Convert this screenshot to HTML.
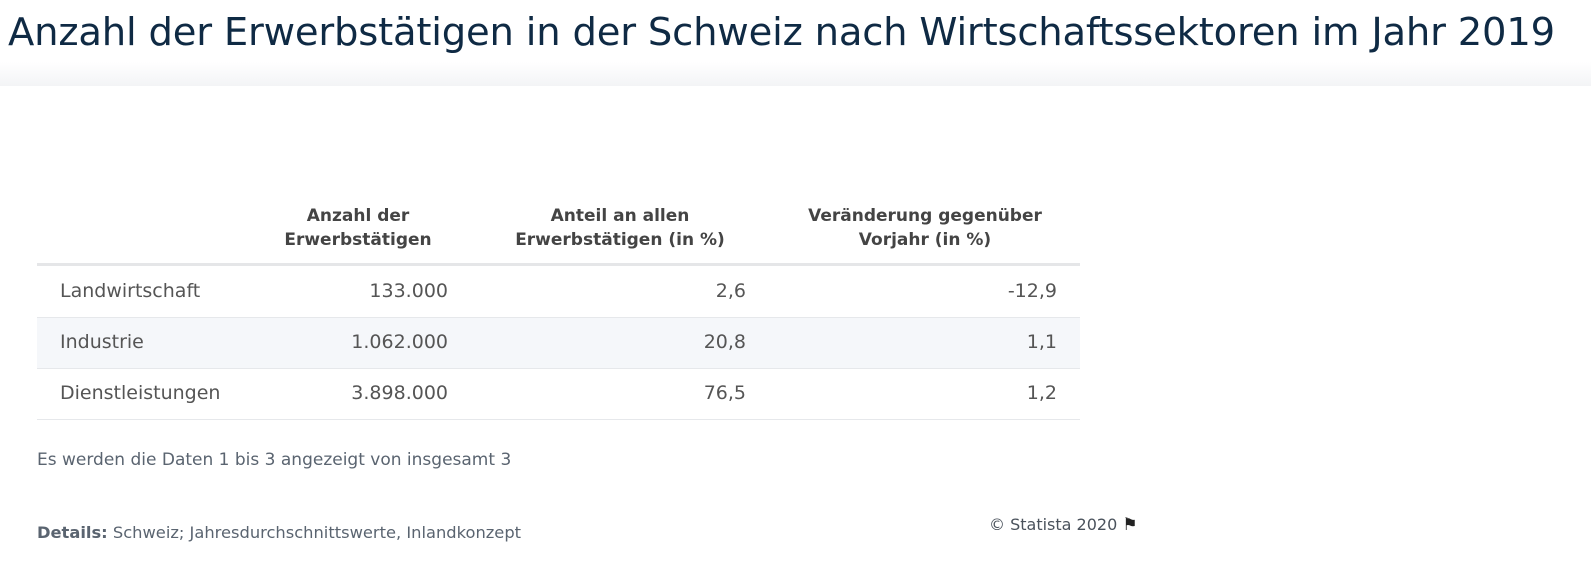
<!DOCTYPE html>
<html><head><meta charset="utf-8"><style>
body{margin:0;width:1591px;height:579px;background:#fff;font-family:"DejaVu Sans","Liberation Sans",sans-serif;position:relative;overflow:hidden}
.a{position:absolute;white-space:nowrap}
h1{position:absolute;left:8px;top:10px;margin:0;font-weight:normal;font-size:38.5px;color:#0f2a44;letter-spacing:-0.2px;font-family:"DejaVu Sans","Liberation Sans",sans-serif}
.hd{font-weight:bold;font-size:17px;color:#444;text-align:center;line-height:24px}
.c{font-size:19px;color:#555}
.r{text-align:right}
</style></head><body>
<h1>Anzahl der Erwerbstätigen in der Schweiz nach Wirtschaftssektoren im Jahr 2019</h1>
<div class="a" style="left:0;top:62px;width:1591px;height:24px;background:linear-gradient(#fff,#f3f4f6)"></div>
<div class="a" style="left:1160px;top:86px;width:431px;height:493px;background:#fff"></div>
<div class="a hd" style="left:258px;top:204px;width:200px">Anzahl der<br>Erwerbstätigen</div>
<div class="a hd" style="left:490px;top:204px;width:260px">Anteil an allen<br>Erwerbstätigen (in %)</div>
<div class="a hd" style="left:780px;top:204px;width:290px">Veränderung gegenüber<br>Vorjahr (in %)</div>
<div class="a" style="left:37px;top:263px;width:1043px;height:3px;background:#e5e6e8"></div>
<div class="a" style="left:37px;top:318px;width:1043px;height:50px;background:#f5f7fa"></div>
<div class="a" style="left:37px;top:317px;width:1043px;height:1px;background:#e6e8eb"></div>
<div class="a" style="left:37px;top:368px;width:1043px;height:1px;background:#e6e8eb"></div>
<div class="a" style="left:37px;top:419px;width:1043px;height:1px;background:#e6e8eb"></div>
<div class="a c" style="left:60px;top:280px">Landwirtschaft</div>
<div class="a c r" style="left:248px;width:200px;top:280px">133.000</div>
<div class="a c r" style="left:546px;width:200px;top:280px">2,6</div>
<div class="a c r" style="left:857px;width:200px;top:280px">-12,9</div>
<div class="a c" style="left:60px;top:331px">Industrie</div>
<div class="a c r" style="left:248px;width:200px;top:331px">1.062.000</div>
<div class="a c r" style="left:546px;width:200px;top:331px">20,8</div>
<div class="a c r" style="left:857px;width:200px;top:331px">1,1</div>
<div class="a c" style="left:60px;top:382px">Dienstleistungen</div>
<div class="a c r" style="left:248px;width:200px;top:382px">3.898.000</div>
<div class="a c r" style="left:546px;width:200px;top:382px">76,5</div>
<div class="a c r" style="left:857px;width:200px;top:382px">1,2</div>
<div class="a" style="left:37px;top:450px;font-size:17px;color:#5a6470">Es werden die Daten 1 bis 3 angezeigt von insgesamt 3</div>
<div class="a" style="left:37px;top:523px;font-size:16.3px;color:#5a6470"><b>Details:</b> Schweiz; Jahresdurchschnittswerte, Inlandkonzept</div>
<div class="a" style="left:989px;top:515px;font-size:16px;color:#4a525c">© Statista 2020 <span style="font-size:17px;color:#222">⚑</span></div>
</body></html>
